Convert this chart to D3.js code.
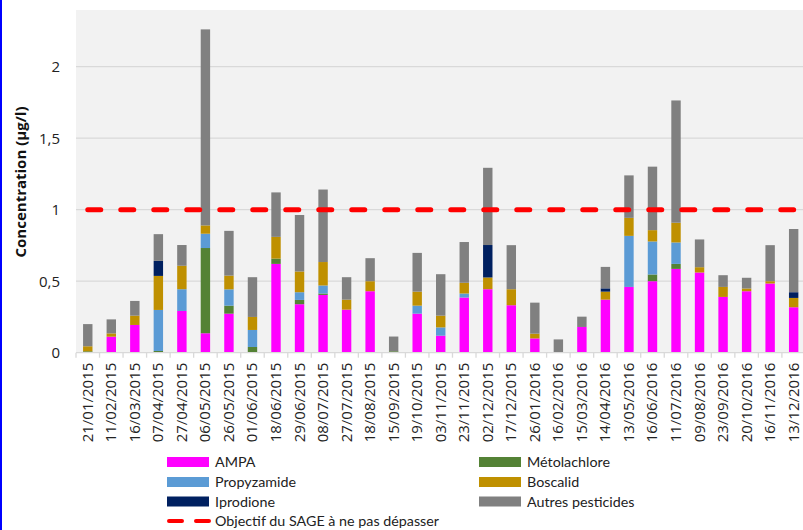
<!DOCTYPE html>
<html><head><meta charset="utf-8">
<script src="https://cdn.jsdelivr.net/npm/d3@7"></script>
<style>html,body{margin:0;padding:0;background:#fff;}svg{display:block;}</style>
</head><body>
<svg id="chart" width="803" height="530"></svg>
<script>
const dates = ["21/01/2015","11/02/2015","16/03/2015","07/04/2015","27/04/2015","06/05/2015","26/05/2015","01/06/2015","18/06/2015","29/06/2015","08/07/2015","27/07/2015","18/08/2015","15/09/2015","19/10/2015","03/11/2015","23/11/2015","02/12/2015","17/12/2015","26/01/2016","16/02/2016","15/03/2016","14/04/2016","13/05/2016","16/06/2016","11/07/2016","09/08/2016","23/09/2016","20/10/2016","16/11/2016","13/12/2016"];
const ampa        = [0,0.112,0.194,0,0.292,0.136,0.273,0,0.621,0.339,0.404,0.301,0.43,0,0.273,0.119,0.386,0.444,0.332,0.1,0,0.18,0.371,0.46,0.5,0.586,0.561,0.39,0.43,0.484,0.318];
const metolachlore= [0.01,0,0,0.012,0,0.596,0.056,0.04,0.037,0.03,0.01,0,0,0.01,0,0,0,0,0,0,0,0,0,0,0.047,0.035,0,0,0,0,0];
const propyzamide = [0,0,0,0.287,0.152,0.1,0.114,0.119,0,0.054,0.056,0,0,0,0.056,0.058,0.028,0,0,0,0,0,0,0.357,0.231,0.15,0,0,0,0,0];
const boscalid    = [0.035,0.023,0.065,0.238,0.164,0.058,0.096,0.091,0.152,0.145,0.164,0.07,0.07,0,0.098,0.082,0.075,0.082,0.112,0.033,0,0,0.056,0.126,0.079,0.138,0.037,0.07,0.019,0.016,0.065];
const iprodione   = [0,0,0,0.105,0,0,0,0,0,0,0,0,0,0,0,0,0,0.227,0,0,0,0,0.023,0,0,0,0,0,0,0,0.04];
const autres      = [0.155,0.098,0.103,0.187,0.145,1.371,0.313,0.278,0.311,0.395,0.507,0.157,0.161,0.103,0.271,0.29,0.285,0.54,0.308,0.217,0.093,0.072,0.15,0.297,0.444,0.855,0.194,0.082,0.075,0.252,0.442];
const objectif = 1;
const yTicks = [0,0.5,1,1.5,2];
const seriesNames = ["AMPA","Métolachlore","Propyzamide","Boscalid","Iprodione","Autres pesticides"];
const seriesColors = ["#ff00ff","#548235","#5b9bd5","#bf9000","#002060","#808080"];
const lineLabel = "Objectif du SAGE à ne pas dépasser";

const seriesData = [ampa, metolachlore, propyzamide, boscalid, iprodione, autres];
const rows = dates.map((d,i)=>{const r={date:d}; seriesNames.forEach((s,k)=>r[s]=seriesData[k][i]); return r;});

const svg = d3.select("#chart");
const font = "'Open Sans', sans-serif";
const legFont = "Lato, sans-serif";
const plotL = 76, plotR = 76 + 31*23.53, plotT = 10, plotB = 352.7;

const x = d3.scaleBand().domain(dates).range([plotL, plotR]).paddingInner(0.6).paddingOuter(0.3);
const y = d3.scaleLinear().domain([0, 2.4]).range([plotB, plotB - 2.4*143]);

// left blue border
svg.append("rect").attr("x",0).attr("y",0).attr("width",2).attr("height",530).attr("fill","#0000ff");

// plot background
svg.append("rect").attr("x",plotL).attr("y",plotT).attr("width",plotR-plotL).attr("height",plotB-plotT).attr("fill","#f2f2f2");

// gridlines
svg.append("g").selectAll("line").data(yTicks.filter(t=>t>0)).join("line")
  .attr("x1",plotL).attr("x2",plotR).attr("y1",d=>y(d)).attr("y2",d=>y(d))
  .attr("stroke","#d9d9d9").attr("stroke-width",1.3);

// y axis labels
const yAxis = d3.axisLeft(y).tickValues(yTicks).tickSize(0).tickPadding(0)
  .tickFormat(d=>String(d).replace(".",","));
const gy = svg.append("g").attr("transform",`translate(${plotL-16},0)`).call(yAxis);
gy.select(".domain").remove();
gy.selectAll("text").attr("font-family",font).attr("font-size",15).attr("fill","#222");

// bars
const stack = d3.stack().keys(seriesNames)(rows);
svg.append("g").selectAll("g").data(stack).join("g")
  .attr("fill",(d,i)=>seriesColors[i])
  .selectAll("rect").data(d=>d).join("rect")
  .attr("x",d=>x(d.data.date)).attr("width",x.bandwidth())
  .attr("y",d=>y(d[1])).attr("height",d=>Math.max(0,y(d[0])-y(d[1])));

// x axis
const step = x.step();
const gx = svg.append("g").attr("transform",`translate(0,${plotB})`);
gx.append("line").attr("x1",plotL).attr("x2",plotR).attr("stroke","#d9d9d9").attr("stroke-width",1.3);
gx.selectAll("line.tk").data(d3.range(dates.length+1)).join("line").attr("class","tk")
  .attr("x1",i=>plotL+i*step).attr("x2",i=>plotL+i*step).attr("y1",0).attr("y2",5)
  .attr("stroke","#d9d9d9").attr("stroke-width",1.3);
gx.selectAll("text").data(dates).join("text")
  .attr("transform",d=>`translate(${x(d)+x.bandwidth()/2+5},10) rotate(-90)`)
  .attr("text-anchor","end").attr("font-family",font).attr("font-size",15).attr("fill","#222")
  .text(d=>d);

// objective line
const line = d3.line().x(d=>x(d)+x.bandwidth()/2).y(()=>y(objectif));
svg.append("path").datum([dates[0],dates[dates.length-1]]).attr("d",line)
  .attr("fill","none").attr("stroke","#ff0000").attr("stroke-width",5)
  .attr("stroke-linecap","round").attr("stroke-dasharray","13 20");

// y title
svg.append("text").attr("transform","translate(26,182) rotate(-90)")
  .attr("text-anchor","middle").attr("font-family",font).attr("font-weight","bold")
  .attr("font-size",15).attr("fill","#111").text("Concentration (µg/l)");

// legend
const leg = [
  {name:seriesNames[0],color:seriesColors[0],col:0,row:0},
  {name:seriesNames[1],color:seriesColors[1],col:1,row:0},
  {name:seriesNames[2],color:seriesColors[2],col:0,row:1},
  {name:seriesNames[3],color:seriesColors[3],col:1,row:1},
  {name:seriesNames[4],color:seriesColors[4],col:0,row:2},
  {name:seriesNames[5],color:seriesColors[5],col:1,row:2}
];
const colX = [167, 479], rowY = [462, 482, 501.5, 521];
const lg = svg.append("g");
leg.forEach(l=>{
  lg.append("rect").attr("x",colX[l.col]).attr("y",rowY[l.row]-5).attr("width",42).attr("height",10).attr("fill",l.color);
  lg.append("text").attr("x",colX[l.col]+48).attr("y",rowY[l.row]).attr("dy","0.35em")
    .attr("font-family",legFont).attr("font-size",14.3).attr("fill","#222").text(l.name);
});
lg.append("line").attr("x1",colX[0]+2).attr("x2",colX[0]+42).attr("y1",rowY[3]).attr("y2",rowY[3])
  .attr("stroke","#ff0000").attr("stroke-width",4).attr("stroke-linecap","round").attr("stroke-dasharray","13 14");
lg.append("text").attr("x",colX[0]+48).attr("y",rowY[3]).attr("dy","0.35em")
  .attr("font-family",legFont).attr("font-size",14.3).attr("fill","#222").text(lineLabel);
</script>
</body></html>
